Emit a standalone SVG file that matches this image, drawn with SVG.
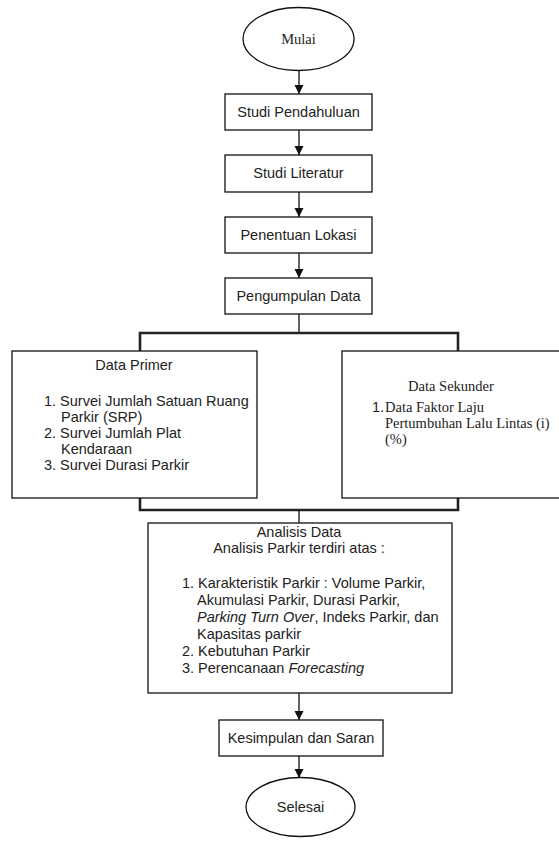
<svg xmlns="http://www.w3.org/2000/svg" width="559" height="841" viewBox="0 0 559 841">
<style>
.box{fill:#fff;stroke:#111;stroke-width:1.3}
.sans{font-family:"Liberation Sans",Arial,sans-serif;font-size:14.5px;fill:#222}
.serif{font-family:"Liberation Serif","Times New Roman",serif;font-size:14.5px;fill:#222}
.mid{text-anchor:middle}
.ln{fill:none;stroke:#111;stroke-width:1.3}
.thick{fill:none;stroke:#222;stroke-width:2.6}
</style>
<defs>
<marker id="arr" markerWidth="10" markerHeight="10" refX="9" refY="5" orient="auto" markerUnits="userSpaceOnUse">
<path d="M0,0.5 L9,5 L0,9.5 Z" fill="#111"/>
</marker>
</defs>
<rect width="559" height="841" fill="#fff"/>
<g id="connectors">
<line class="ln" x1="299" y1="70" x2="299" y2="94" marker-end="url(#arr)"/>
<line class="ln" x1="299" y1="130" x2="299" y2="155" marker-end="url(#arr)"/>
<line class="ln" x1="299" y1="192" x2="299" y2="217" marker-end="url(#arr)"/>
<line class="ln" x1="299" y1="253" x2="299" y2="278" marker-end="url(#arr)"/>
<line class="ln" x1="299" y1="314" x2="299" y2="333"/>
<path class="thick" d="M140,351 V333 H458 V351"/>
<path class="thick" d="M140,498 V510 H458 V498"/>
<line class="ln" x1="299" y1="510" x2="299" y2="523"/>
<line class="ln" x1="299" y1="693" x2="299" y2="720" marker-end="url(#arr)"/>
<line class="ln" x1="299" y1="756" x2="299" y2="778" marker-end="url(#arr)"/>
</g>
<g id="mulai">
<ellipse class="box" cx="298.5" cy="39" rx="55.5" ry="31.5"/>
<text class="serif mid" x="298.5" y="44">Mulai</text>
</g>
<g id="studi-pendahuluan">
<rect class="box" x="225" y="94" width="147" height="36"/>
<text class="sans mid" x="298.5" y="117">Studi Pendahuluan</text>
</g>
<g id="studi-literatur">
<rect class="box" x="225" y="155" width="147" height="37"/>
<text class="sans mid" x="298.5" y="178">Studi Literatur</text>
</g>
<g id="penentuan-lokasi">
<rect class="box" x="225" y="217" width="147" height="36"/>
<text class="sans mid" x="298.5" y="240">Penentuan Lokasi</text>
</g>
<g id="pengumpulan-data">
<rect class="box" x="225" y="278" width="147" height="36"/>
<text class="sans mid" x="298.5" y="301">Pengumpulan Data</text>
</g>
<g id="data-primer">
<rect class="box" x="12" y="351" width="245" height="147"/>
<text class="sans mid" x="134" y="370">Data Primer</text>
<text class="sans" x="44" y="406">1. Survei Jumlah Satuan Ruang</text>
<text class="sans" x="61" y="422">Parkir (SRP)</text>
<text class="sans" x="44" y="438">2. Survei Jumlah Plat</text>
<text class="sans" x="61" y="454">Kendaraan</text>
<text class="sans" x="44" y="470">3. Survei Durasi Parkir</text>
</g>
<g id="data-sekunder">
<rect class="box" x="342" y="351" width="220" height="147"/>
<text class="serif mid" x="451" y="391">Data Sekunder</text>
<text class="sans" x="372" y="412" font-size="13">1.</text>
<text class="serif" x="385" y="412">Data Faktor Laju</text>
<text class="serif" x="385" y="428">Pertumbuhan Lalu Lintas (i)</text>
<text class="serif" x="385" y="444">(%)</text>
</g>
<g id="analisis-data">
<rect class="box" x="148" y="523" width="304" height="170"/>
<text class="sans mid" x="299" y="537">Analisis Data</text>
<text class="sans mid" x="299" y="553">Analisis Parkir terdiri atas :</text>
<text class="sans" x="182" y="588">1. Karakteristik Parkir : Volume Parkir,</text>
<text class="sans" x="197" y="605">Akumulasi Parkir, Durasi Parkir,</text>
<text class="sans" x="197" y="622"><tspan font-style="italic">Parking Turn Over</tspan>, Indeks Parkir, dan</text>
<text class="sans" x="197" y="639">Kapasitas parkir</text>
<text class="sans" x="182" y="656">2. Kebutuhan Parkir</text>
<text class="sans" x="182" y="673">3. Perencanaan <tspan font-style="italic">Forecasting</tspan></text>
</g>
<g id="kesimpulan">
<rect class="box" x="219" y="720" width="164" height="36"/>
<text class="sans mid" x="301" y="743">Kesimpulan dan Saran</text>
</g>
<g id="selesai">
<ellipse class="box" cx="300.5" cy="807" rx="54.5" ry="29.5"/>
<text class="sans mid" x="300.5" y="812">Selesai</text>
</g>
</svg>
